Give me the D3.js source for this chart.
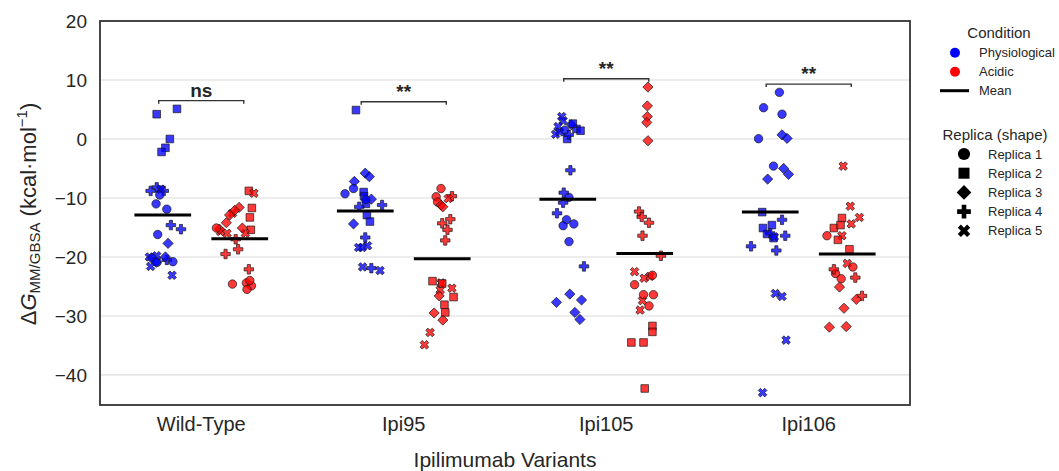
<!DOCTYPE html>
<html>
<head>
<meta charset="utf-8">
<script src="https://cdn.jsdelivr.net/npm/d3@7"></script>
<style>
  body { margin: 0; background: #fff; }
  text { font-family: "Liberation Sans", Arial, sans-serif; fill: #262626; }
</style>
</head>
<body>
<svg id="chart" width="1059" height="471"></svg>
<script>
// categories / labels
const variants = ["Wild-Type", "Ipi95", "Ipi105", "Ipi106"]
const conditions = ["Physiological", "Acidic"]
const replicaNames = ["Replica 1", "Replica 2", "Replica 3", "Replica 4", "Replica 5"]
const yTicks = [-40, -30, -20, -10, 0, 10, 20]

// points: [replica, dG (kcal/mol), jitter (in category units)]
const wtPhys = [[2,4.2,-0.03],[2,5.1,0.07],[2,0.0,0.035],[2,-1.5,0.013],[2,-2.2,-0.006],
  [4,-8.8,-0.06],[4,-8.2,-0.03],[4,-8.8,0.005],[4,-14.6,0.04],[4,-15.3,0.09],[4,-20.5,0.02],
  [5,-8.5,-0.01],[5,-20.0,-0.066],[5,-19.8,-0.03],[5,-21.6,-0.06],[5,-23.1,0.046],
  [1,-9.5,-0.015],[1,-11.0,-0.033],[1,-11.9,0.02],[1,-16.2,-0.025],[1,-20.2,-0.053],[1,-20.9,-0.028],[1,-20.8,0.05],
  [3,-17.7,0.026],[3,-20.0,0.013],[3,-20.9,-0.033]]
const wtAcid = [[2,-8.8,0.045],[2,-11.7,0.06],[2,-13.3,0.05],[2,-15.4,0.055],
  [5,-9.2,0.07],[5,-12.6,-0.036],[5,-16.0,-0.063],[5,-15.7,-0.095],[5,-16.0,0.028],
  [3,-11.6,-0.003],[3,-12.1,-0.025],[3,-12.9,-0.05],[3,-14.2,-0.066],[3,-15.1,0.013],[3,-15.3,-0.1],
  [1,-15.1,-0.115],[1,-24.6,-0.036],[1,-24.4,0.033],[1,-24.9,0.058],[1,-25.5,0.036],[1,-24.0,0.05],
  [4,-17.0,-0.02],[4,-19.5,-0.07],[4,-18.7,-0.008],[4,-22.1,0.045]]
const ipi95Phys = [[2,4.9,-0.046],[2,-9.0,-0.008],[2,-9.7,-0.006],[2,-11.0,0.003],[2,-12.9,0.008],[2,-14.0,0.023],
  [3,-5.8,0],[3,-6.4,0.02],[3,-7.2,-0.054],[3,-10.2,0.03],[3,-14.4,-0.058],
  [1,-8.4,-0.058],[1,-9.3,-0.1],[1,-10.3,0.003],
  [4,-11.2,0.083],[4,-11.5,-0.03],[4,-16.7,0],[4,-21.9,0.03],
  [5,-18.4,-0.033],[5,-18.1,0.011],[5,-18.4,-0.015],[5,-21.7,-0.013],[5,-22.3,0.073]]
const ipi95Acid = [[1,-8.4,-0.006],[1,-9.8,-0.03],[1,-10.7,-0.023],
  [4,-9.7,0.048],[4,-13.6,0.04],[4,-14.3,0],[4,-15.4,0.026],[4,-17.2,0.015],
  [5,-10.1,0.03],[5,-24.4,-0.006],[5,-25.6,-0.01],[5,-25.3,0.048],[5,-32.8,-0.06],[5,-34.9,-0.088],
  [3,-11.2,-0.006],[3,-11.5,0.003],[3,-26.6,-0.015],[3,-29.5,-0.04],[3,-30.7,0.003],
  [2,-24.1,-0.048],[2,-24.5,0],[2,-26.8,0.056],[2,-28.1,0.011],[2,-29.4,0.015]]
const ipi105Phys = [[5,3.8,-0.03],[5,3.1,-0.023],[5,2.1,-0.048],[5,0.8,-0.06],[5,1.2,-0.04],
  [1,1.5,-0.015],[1,-9.9,0.006],[1,-13.7,-0.006],[1,-14.4,0.03],[1,-14.7,-0.023],[1,-17.4,0.006],
  [3,2.4,0.018],[3,-26.3,0.01],[3,-27.7,-0.056],[3,-27.3,0.068],[3,-29.4,0.035],[3,-30.6,0.06],
  [2,1.7,0.043],[2,1.4,0.063],[2,0.0,-0.003],[2,2.6,0.025],
  [4,0.7,0.005],[4,-5.3,0.013],[4,-9.1,-0.02],[4,-10.8,-0.023],[4,-12.6,-0.053],[4,-21.6,0.08]]
const ipi105Acid = [[3,8.8,0.016],[3,5.6,0.013],[3,3.8,0.013],[3,2.8,0.01],[3,-0.3,0.016],
  [4,-12.3,-0.028],[4,-13.2,-0.015],[4,-14.2,0.021],[4,-16.4,-0.011],[4,-19.8,0.08],
  [5,-22.5,-0.05],[5,-23.6,-0.003],[5,-23.3,0.026],[5,-27.4,-0.011],[5,-29.0,-0.023],
  [1,-23.1,0.038],[1,-24.7,-0.05],[1,-26.4,-0.006],[1,-26.4,0.043],[1,-28.3,0.021],
  [2,-31.7,0.038],[2,-32.7,0.038],[2,-34.5,-0.066],[2,-34.5,-0.006],[2,-42.3,0]]
const ipi106Phys = [[1,7.9,0.045],[1,5.3,-0.033],[1,4.2,0.058],[1,0.05,-0.058],[1,-4.6,0.016],
  [3,0.7,0.058],[3,0.1,0.083],[3,-5.0,0.066],[3,-6.0,0.09],[3,-6.8,-0.013],
  [2,-12.4,-0.04],[2,-14.6,0.008],[2,-15.1,-0.036],[2,-16.1,-0.016],[2,-16.8,0.016],
  [4,-13.7,0.058],[4,-16.4,0.074],[4,-18.2,-0.095],[4,-18.9,0.03],[4,-16.0,0],
  [5,-16.6,0.02],[5,-26.2,0.025],[5,-26.7,0.058],[5,-34.1,0.078],[5,-43.0,-0.038]]
const ipi106Acid = [[5,-4.6,-0.02],[5,-11.4,0.015],[5,-13.3,0.06],[5,-14.4,0.02],[5,-16.4,-0.026],[5,-21.1,0],
  [2,-13.4,-0.026],[2,-15.1,-0.066],[2,-14.6,-0.033],[2,-17.1,-0.046],[2,-18.7,0.011],
  [1,-16.4,-0.1],[1,-21.7,0.028],[1,-22.8,-0.058],[1,-23.7,-0.03],
  [4,-22.1,-0.066],[4,-23.5,0.04],[4,-26.6,0.073],
  [3,-25.1,-0.038],[3,-27.2,0.045],[3,-28.7,-0.016],[3,-31.9,-0.088],[3,-31.8,-0.005]]

const meanPhys = [-12.9, -12.2, -10.2, -12.4]
const meanAcid = [-16.9, -20.3, -19.4, -19.5]
const bracketTop = [6.5, 6.3, 10.2, 9.3]
const sigLabels = ["ns", "**", "**", "**"]

const groups = [
  [wtPhys, wtAcid], [ipi95Phys, ipi95Acid], [ipi105Phys, ipi105Acid], [ipi106Phys, ipi106Acid]
]

const colors = {Physiological: "#0000ff", Acidic: "#ff0000"}
const dodge = 0.19

const svg = d3.select("#chart")
svg.append("rect").attr("width", 1059).attr("height", 471).attr("fill", "#fff")

const plotLeft = 100, plotRight = 910, plotTop = 21, plotBottom = 405

const x = d3.scaleBand().domain(variants).range([plotLeft, plotRight])
const bw = x.bandwidth()
const cx = v => x(v) + bw / 2
const y = d3.scaleLinear().domain([-45.1, 20]).range([plotBottom, plotTop])

// grid
svg.append("g").selectAll("line")
  .data(yTicks.filter(t => t < 20))
  .join("line")
  .attr("x1", plotLeft).attr("x2", plotRight)
  .attr("y1", d => y(d)).attr("y2", d => y(d))
  .attr("stroke", "#dcdcdc").attr("stroke-width", 1.1)

// y axis labels
const yAxis = d3.axisLeft(y).tickValues(yTicks).tickSize(0).tickPadding(13)
  .tickFormat(d => d < 0 ? "\u2212" + Math.abs(d) : d)
svg.append("g").attr("transform", `translate(${plotLeft},0)`).call(yAxis)
  .call(g => g.select(".domain").remove())
  .selectAll("text").attr("font-size", 19).attr("fill", "#262626")
  .style("font-family", '"Liberation Sans", Arial, sans-serif')

// x axis labels
const xAxis = d3.axisBottom(x).tickSize(0).tickPadding(12)
svg.append("g").attr("transform", `translate(0,${plotBottom})`).call(xAxis)
  .call(g => g.select(".domain").remove())
  .selectAll("text").attr("font-size", 20).attr("fill", "#262626")
  .style("font-family", '"Liberation Sans", Arial, sans-serif')

// symbols
const shapes = {
  1: {type: d3.symbolCircle, size: 56, rot: 0},
  2: {type: d3.symbolSquare, size: 58, rot: 0},
  3: {type: d3.symbolSquare, size: 52, rot: 45},
  4: {type: d3.symbolCross, size: 50, rot: 0},
  5: {type: d3.symbolCross, size: 46, rot: 45}
}
const sym = (r, scale) => d3.symbol().type(shapes[r].type).size(shapes[r].size * (scale || 1))()

// points
const pts = []
groups.forEach((pair, vi) => {
  pair.forEach((arr, ci) => {
    arr.forEach(p => pts.push({v: variants[vi], c: conditions[ci], r: p[0], val: p[1], j: p[2]}))
  })
})

svg.append("g").selectAll("path")
  .data(pts)
  .join("path")
  .attr("d", d => sym(d.r))
  .attr("transform", d => {
    const px = cx(d.v) + (d.c === "Physiological" ? -dodge : dodge) * bw + d.j * bw
    return `translate(${px},${y(d.val)}) rotate(${shapes[d.r].rot})`
  })
  .attr("fill", d => colors[d.c])
  .attr("fill-opacity", 0.78)
  .attr("stroke", "#1a1a1a")
  .attr("stroke-width", 0.7)

// means
const meanData = []
variants.forEach((v, i) => {
  meanData.push({v: v, off: -dodge, m: meanPhys[i]})
  meanData.push({v: v, off: dodge, m: meanAcid[i]})
})
svg.append("g").selectAll("line")
  .data(meanData)
  .join("line")
  .attr("x1", d => cx(d.v) + (d.off - 0.14) * bw)
  .attr("x2", d => cx(d.v) + (d.off + 0.14) * bw)
  .attr("y1", d => y(d.m)).attr("y2", d => y(d.m))
  .attr("stroke", "#000").attr("stroke-width", 3)

// significance brackets
const br = svg.append("g")
variants.forEach((v, i) => {
  const x1 = cx(v) - 0.21 * bw, x2 = cx(v) + 0.21 * bw, yy = y(bracketTop[i])
  br.append("path")
    .attr("d", `M${x1},${yy + 3}V${yy}H${x2}V${yy + 3}`)
    .attr("fill", "none").attr("stroke", "#333").attr("stroke-width", 1.4)
  br.append("text")
    .attr("x", cx(v)).attr("y", yy - 4)
    .attr("text-anchor", "middle")
    .attr("font-size", 19).attr("font-weight", "bold")
    .attr("fill", "#111")
    .text(sigLabels[i])
})

// frame
svg.append("rect")
  .attr("x", plotLeft).attr("y", plotTop)
  .attr("width", plotRight - plotLeft).attr("height", plotBottom - plotTop)
  .attr("fill", "none").attr("stroke", "#333").attr("stroke-width", 1.8)

// axis titles
svg.append("text")
  .attr("x", (plotLeft + plotRight) / 2).attr("y", 467)
  .attr("text-anchor", "middle").attr("font-size", 21)
  .text("Ipilimumab Variants")

const yt = svg.append("text")
  .attr("transform", "translate(36,214) rotate(-90)")
  .attr("text-anchor", "middle").attr("font-size", 22)
yt.append("tspan").text("\u0394")
yt.append("tspan").attr("font-style", "italic").text("G")
yt.append("tspan").attr("font-size", 15).attr("dy", 4).text("MM/GBSA")
yt.append("tspan").attr("dy", -4).text(" (kcal\u00b7mol")
yt.append("tspan").attr("font-size", 15).attr("dy", -9).text("\u22121")
yt.append("tspan").attr("dy", 9).text(")")

// legend
const lg = svg.append("g")
lg.append("text").attr("x", 999).attr("y", 38).attr("text-anchor", "middle")
  .attr("font-size", 15).text("Condition")
conditions.forEach((c, i) => {
  const yy = 52.7 + i * 19
  lg.append("circle").attr("cx", 955).attr("cy", yy).attr("r", 5).attr("fill", colors[c])
  lg.append("text").attr("x", 979).attr("y", yy + 4.6).attr("font-size", 13).text(c)
})
lg.append("line").attr("x1", 940).attr("x2", 969).attr("y1", 90.7).attr("y2", 90.7)
  .attr("stroke", "#000").attr("stroke-width", 3)
lg.append("text").attr("x", 979).attr("y", 95.3).attr("font-size", 13).text("Mean")

lg.append("text").attr("x", 995).attr("y", 139.5).attr("text-anchor", "middle")
  .attr("font-size", 15).text("Replica (shape)")
replicaNames.forEach((r, i) => {
  const yy = 154 + i * 19.2
  lg.append("path").attr("d", sym(i + 1, 2.1))
    .attr("transform", `translate(964,${yy}) rotate(${shapes[i + 1].rot})`)
    .attr("fill", "#000")
  lg.append("text").attr("x", 988).attr("y", yy + 4.6).attr("font-size", 13).text(r)
})
</script>
</body>
</html>
